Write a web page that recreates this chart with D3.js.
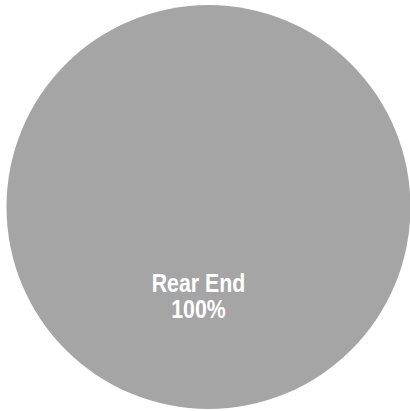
<!DOCTYPE html>
<html>
<head>
<meta charset="utf-8">
<script src="https://cdn.jsdelivr.net/npm/d3@7"></script>
<style>
  html, body { margin: 0; padding: 0; background: #ffffff; }
  svg { display: block; }
</style>
</head>
<body>
<svg id="chart" width="410" height="411"></svg>
<script>
// Collision types and their share of incidents
const categories = ["Rear End"];
const values = [100];
const colors = ["#A5A5A5"];

const width = 410, height = 411;
const cx = 208.5, cy = 207, radius = 202;

const svg = d3.select("#chart");
const g = svg.append("g").attr("transform", `translate(${cx},${cy})`);

const pie = d3.pie().sort(null).value(d => d.value);
const data = categories.map((c, i) => ({ name: c, value: values[i], color: colors[i] }));
const arcs = pie(data);

const arc = d3.arc().innerRadius(0).outerRadius(radius);
const labelArc = d3.arc().innerRadius(radius * 0.44).outerRadius(radius * 0.44);

g.selectAll("path.slice")
  .data(arcs)
  .join("path")
  .attr("class", "slice")
  .attr("d", arc)
  .attr("fill", d => d.data.color);

const total = d3.sum(values);
// Narrow bold labels: regular sans squeezed horizontally
const label = g.selectAll("text.label")
  .data(arcs)
  .join("text")
  .attr("class", "label")
  .attr("transform", d => {
    const [x, y] = labelArc.centroid(d);
    return `translate(${x - 10},${y}) scale(0.82,1)`;
  })
  .attr("text-anchor", "middle")
  .attr("fill", "#ffffff")
  .attr("font-family", "'Liberation Sans', Arial, sans-serif")
  .attr("font-weight", "bold")
  .attr("font-size", 26);

label.append("tspan")
  .attr("x", 0)
  .attr("y", -4.2)
  .text(d => d.data.name);
label.append("tspan")
  .attr("x", 0)
  .attr("y", 22.4)
  .text(d => d3.format(".0%")(d.data.value / total));
</script>
</body>
</html>
